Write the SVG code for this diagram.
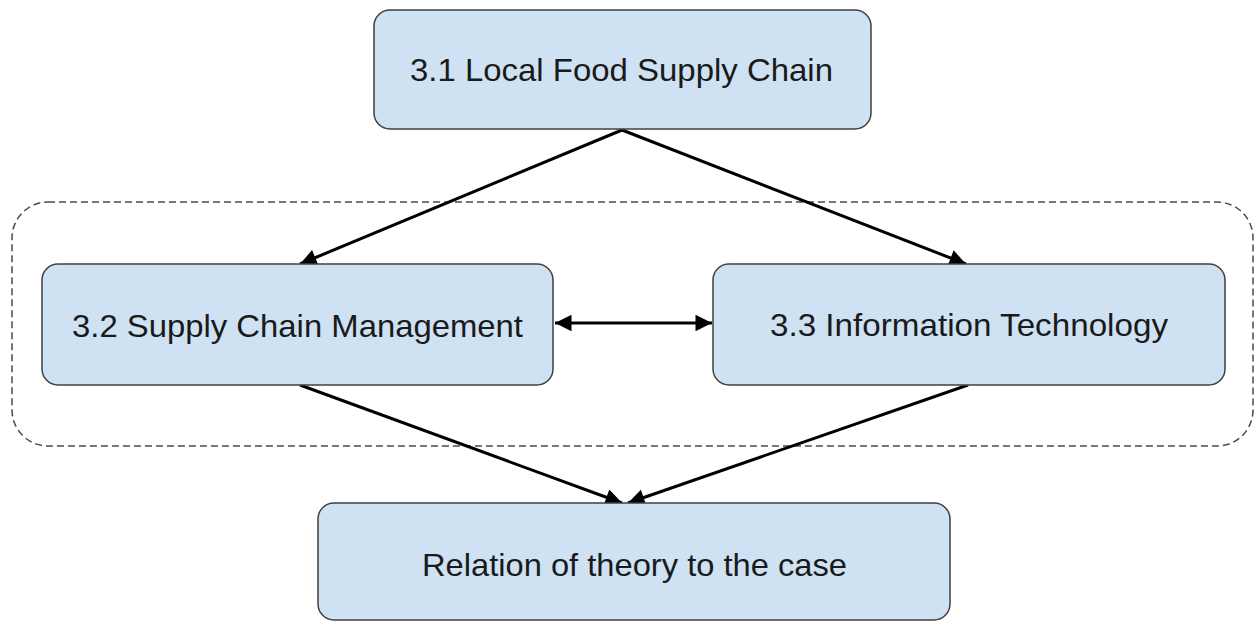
<svg xmlns="http://www.w3.org/2000/svg" width="1255" height="622" viewBox="0 0 1255 622">
  <defs>
    <style>
      .box { fill: #cfe2f3; stroke: #404040; stroke-width: 1.5; }
      .lbl { font-family: "Liberation Sans", Arimo, Arial, sans-serif; font-size: 32px; fill: #1a1a1a; text-anchor: middle; }
      .edge { stroke: #000; stroke-width: 3; fill: none; marker-end: url(#head); }
      .group { fill: none; stroke: #4a4a4a; stroke-width: 1.5; stroke-dasharray: 7 4; }
    </style>
    <marker id="head" viewBox="0 0 10 10" refX="10" refY="5" markerWidth="6.5" markerHeight="5.5" markerUnits="strokeWidth" orient="auto">
      <path d="M0,0 L10,5 L0,10 Z" fill="#000"/>
    </marker>
    <marker id="tail" viewBox="0 0 10 10" refX="0" refY="5" markerWidth="6.5" markerHeight="5.5" markerUnits="strokeWidth" orient="auto">
      <path d="M10,0 L0,5 L10,10 Z" fill="#000"/>
    </marker>
  </defs>

  <rect width="1255" height="622" fill="#fff"/>

  <!-- dashed grouping frame around the two middle topics -->
  <rect class="group" x="12" y="202" width="1241" height="244" rx="36" ry="36"/>

  <g id="connectors">
    <line class="edge" x1="622" y1="130" x2="300" y2="264"/>
    <line class="edge" x1="622" y1="130" x2="966" y2="264"/>
    <line class="edge" x1="300" y1="385" x2="622" y2="503"/>
    <line class="edge" x1="968" y1="385" x2="628" y2="503"/>
    <line class="edge" x1="555" y1="323" x2="712" y2="323" marker-start="url(#tail)"/>
  </g>

  <g id="node-local-food">
    <rect class="box" x="374" y="10" width="497" height="119" rx="16" ry="16"/>
    <text class="lbl" x="621.5" y="81" textLength="423" lengthAdjust="spacingAndGlyphs">3.1 Local Food Supply Chain</text>
  </g>

  <g id="node-scm">
    <rect class="box" x="42" y="264" width="511" height="121" rx="16" ry="16"/>
    <text class="lbl" x="297.5" y="337" textLength="451" lengthAdjust="spacingAndGlyphs">3.2 Supply Chain Management</text>
  </g>

  <g id="node-it">
    <rect class="box" x="713" y="264" width="512" height="121" rx="16" ry="16"/>
    <text class="lbl" x="969" y="336" textLength="398" lengthAdjust="spacingAndGlyphs">3.3 Information Technology</text>
  </g>

  <g id="node-relation">
    <rect class="box" x="318" y="503" width="632" height="117" rx="16" ry="16"/>
    <text class="lbl" x="634.5" y="576" textLength="425" lengthAdjust="spacingAndGlyphs">Relation of theory to the case</text>
  </g>
</svg>
